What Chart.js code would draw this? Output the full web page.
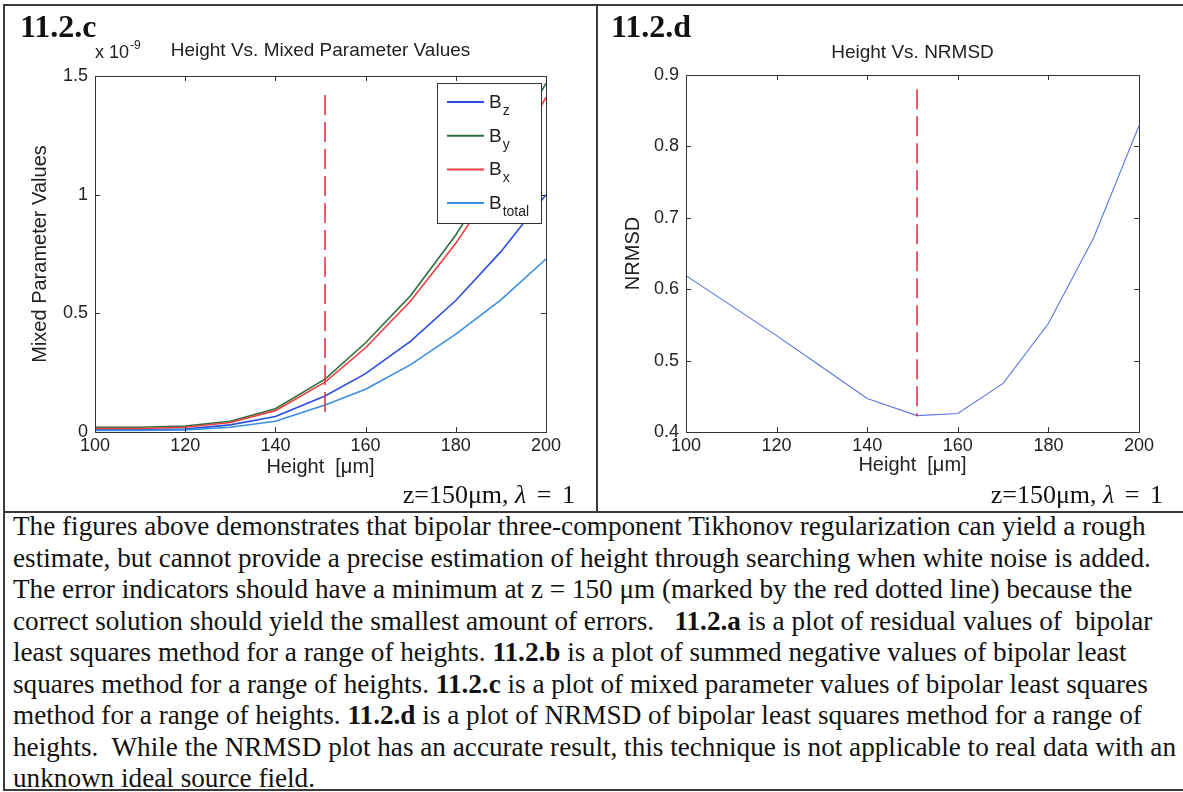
<!DOCTYPE html>
<html>
<head>
<meta charset="utf-8">
<script src="https://cdn.jsdelivr.net/npm/chart.js@4.4.1/dist/chart.umd.min.js"></script>
<style>
html,body{margin:0;padding:0;background:#fff;}
body{width:1183px;height:792px;position:relative;overflow:hidden;font-family:"Liberation Serif","Times New Roman",serif;color:#111;}
.rule{position:absolute;background:#3a3a3a;z-index:5;}
.plabel{position:absolute;font-weight:bold;font-size:32px;line-height:32px;white-space:nowrap;z-index:4;}
.note{position:absolute;font-size:26px;line-height:26px;white-space:nowrap;text-align:right;z-index:4;}
.note i{font-style:italic;}
.note .m{word-spacing:4px;}
#para{position:absolute;left:13px;top:511px;font-size:27.2px;line-height:31.5px;white-space:pre;z-index:4;}
.wrap{position:absolute;top:0;height:510px;}
</style>
</head>
<body>
<div class="wrap" style="left:0;width:595px;"><canvas id="c1" width="595" height="510"></canvas></div>
<div class="wrap" style="left:597px;width:586px;"><canvas id="c2" width="586" height="510"></canvas></div>

<div class="rule" style="left:4px;top:4px;width:1179px;height:2px;"></div>
<div class="rule" style="left:3px;top:4px;width:2px;height:787px;"></div>
<div class="rule" style="left:596px;top:4px;width:2px;height:508px;"></div>
<div class="rule" style="left:4px;top:511px;width:1179px;height:2px;"></div>
<div class="rule" style="left:4px;top:789px;width:1179px;height:2px;"></div>

<div class="plabel" style="left:20px;top:10px;">11.2.c</div>
<div class="plabel" style="left:611px;top:10px;">11.2.d</div>
<div class="note" style="right:608px;top:482px;">z=150μm, <span class="m"><i>λ</i> = 1</span></div>
<div class="note" style="right:20px;top:482px;">z=150μm, <span class="m"><i>λ</i> = 1</span></div>

<div id="para">The figures above demonstrates that bipolar three-component Tikhonov regularization can yield a rough
estimate, but cannot provide a precise estimation of height through searching when white noise is added.
The error indicators should have a minimum at z = 150 μm (marked by the red dotted line) because the
correct solution should yield the smallest amount of errors.   <b>11.2.a</b> is a plot of residual values of  bipolar
least squares method for a range of heights. <b>11.2.b</b> is a plot of summed negative values of bipolar least
squares method for a range of heights. <b>11.2.c</b> is a plot of mixed parameter values of bipolar least squares
method for a range of heights. <b>11.2.d</b> is a plot of NRMSD of bipolar least squares method for a range of
heights.  While the NRMSD plot has an accurate result, this technique is not applicable to real data with an
unknown ideal source field.</div>

<script>
// ---------- data ----------
const heights = [100, 110, 120, 130, 140, 151, 160, 170, 180, 190, 200];
// mixed parameter values, in units of 1e-9
const bz     = [0.010, 0.010, 0.012, 0.030, 0.065, 0.152, 0.246, 0.383, 0.554, 0.760, 1.000];
const by     = [0.020, 0.020, 0.025, 0.045, 0.098, 0.223, 0.376, 0.575, 0.830, 1.130, 1.470];
const bx     = [0.015, 0.015, 0.020, 0.040, 0.090, 0.210, 0.355, 0.552, 0.795, 1.080, 1.410];
const btotal = [0.007, 0.007, 0.009, 0.020, 0.045, 0.114, 0.180, 0.284, 0.412, 0.557, 0.729];
const nrmsd  = [0.619, 0.577, 0.535, 0.491, 0.447, 0.423, 0.426, 0.468, 0.552, 0.672, 0.829];
const markerHeight = 151;
const markerLeft  = [1.42, 0.06];
const markerRight = [0.88, 0.422];
const seriesNames = ['z', 'y', 'x', 'total'];
const xTicks = [100, 120, 140, 160, 180, 200];
const leftYTicks = [0, 0.5, 1, 1.5];
const rightYTicks = [0.4, 0.5, 0.6, 0.7, 0.8, 0.9];

const FONT = '"Liberation Sans", Arial, sans-serif';
const INK = '#222';
const pts = ys => heights.map((h, i) => ({x: h, y: ys[i]}));
const vline = r => r.map(v => ({x: markerHeight, y: v}));
const fmt = v => String(Number(v.toFixed(2)));

const boxTicks = {
  id: 'boxTicks',
  afterDraw(chart) {
    const {ctx, chartArea: a, scales: {x, y}} = chart;
    ctx.save();
    ctx.strokeStyle = '#333';
    ctx.lineWidth = 1;
    ctx.beginPath();
    x.ticks.forEach(t => {
      const p = Math.round(x.getPixelForValue(t.value)) + 0.5;
      ctx.moveTo(p, a.bottom); ctx.lineTo(p, a.bottom - 5);
      ctx.moveTo(p, a.top); ctx.lineTo(p, a.top + 5);
    });
    y.ticks.forEach(t => {
      const p = Math.round(y.getPixelForValue(t.value)) + 0.5;
      ctx.moveTo(a.left, p); ctx.lineTo(a.left + 5, p);
      ctx.moveTo(a.right, p); ctx.lineTo(a.right - 5, p);
    });
    ctx.stroke();
    ctx.strokeRect(Math.round(a.left) + 0.5, Math.round(a.top) + 0.5,
                   Math.round(a.right - a.left), Math.round(a.bottom - a.top));
    ctx.restore();
  }
};

const extras = {
  id: 'extras',
  afterDraw(chart, args, opts) {
    if (!opts.legend) return;
    const {ctx, chartArea: a} = chart;
    ctx.save();
    // exponent label
    ctx.fillStyle = INK;
    ctx.textBaseline = 'alphabetic';
    ctx.textAlign = 'left';
    ctx.font = '18px ' + FONT;
    ctx.fillText('x 10', a.left, a.top - 18);
    const w = ctx.measureText('x 10').width;
    ctx.font = '12px ' + FONT;
    ctx.fillText('-9', a.left + w + 1, a.top - 27);
    // legend
    const bx0 = a.right - 109, by0 = a.top + 7, bw = 104, bh = 140;
    ctx.fillStyle = '#fff';
    ctx.fillRect(bx0, by0, bw, bh);
    ctx.strokeStyle = '#333';
    ctx.lineWidth = 1;
    ctx.strokeRect(bx0 + 0.5, by0 + 0.5, bw, bh);
    chart.data.datasets.filter(d => d.legendSub).forEach((d, i) => {
      const cy = by0 + 19 + i * 33.7;
      ctx.strokeStyle = d.borderColor;
      ctx.lineWidth = 2;
      ctx.beginPath();
      ctx.moveTo(bx0 + 10, cy); ctx.lineTo(bx0 + 47, cy);
      ctx.stroke();
      ctx.fillStyle = INK;
      ctx.font = '19px ' + FONT;
      ctx.fillText('B', bx0 + 52, cy + 6);
      const bw2 = ctx.measureText('B').width;
      ctx.font = '14px ' + FONT;
      ctx.fillText(d.legendSub, bx0 + 52 + bw2 + 1, cy + 13);
    });
    ctx.restore();
  }
};

function baseOptions(cfg) {
  return {
    responsive: false,
    animation: false,
    events: [],
    layout: {padding: {left: 0, right: cfg.padRight, top: 0, bottom: 28}},
    plugins: {
      legend: {display: false},
      tooltip: {enabled: false},
      title: {
        display: true, text: cfg.title, fullSize: false, color: INK,
        font: {family: FONT, size: 19, weight: 'normal', lineHeight: 1.2},
        padding: {top: cfg.titleTop, bottom: cfg.top - cfg.titleTop - 22.8}
      },
      extras: {legend: cfg.legend}
    },
    scales: {
      x: {
        type: 'linear', min: 100, max: 200,
        afterFit: s => { s.height = 50; },
        afterBuildTicks: s => { s.ticks = xTicks.map(v => ({value: v})); },
        grid: {display: false, drawTicks: false},
        border: {display: false},
        ticks: {color: INK, padding: 3, font: {family: FONT, size: 18}, maxRotation: 0, callback: v => fmt(v)},
        title: {display: true, text: 'Height  [μm]', color: INK,
                font: {family: FONT, size: 20, lineHeight: 1.2}, padding: {top: 0, bottom: cfg.xTitlePad}}
      },
      y: {
        type: 'linear', min: cfg.yMin, max: cfg.yMax,
        afterFit: s => { s.width = cfg.yWidth; },
        afterBuildTicks: s => { s.ticks = cfg.yTicks.map(v => ({value: v})); },
        grid: {display: false, drawTicks: false},
        border: {display: false},
        ticks: {color: INK, padding: 7, font: {family: FONT, size: 18}, callback: v => fmt(v)},
        title: {display: true, text: cfg.yTitle, color: INK,
                font: {family: FONT, size: 20, lineHeight: 1.2}, padding: {top: cfg.yTitlePad, bottom: 0}}
      }
    }
  };
}

const lineDs = (label, ys, color, sub, order, width) => ({
  label, data: pts(ys), borderColor: color, backgroundColor: color, borderWidth: width,
  pointRadius: 0, fill: false, tension: 0, legendSub: sub, order
});
const dashDs = r => ({
  label: 'z = 150', data: vline(r), borderColor: '#e8334a', borderWidth: 1.6,
  borderDash: [20, 7], pointRadius: 0, fill: false, order: 0
});

new Chart(document.getElementById('c1'), {
  type: 'line',
  data: {datasets: [
    lineDs('Bz', bz, '#2a4de2', seriesNames[0], 4, 1.6),
    lineDs('By', by, '#2f6d3d', seriesNames[1], 3, 1.6),
    lineDs('Bx', bx, '#ee3d3d', seriesNames[2], 2, 1.6),
    lineDs('Btotal', btotal, '#3a8ee0', seriesNames[3], 1, 1.6),
    dashDs(markerLeft)
  ]},
  options: baseOptions({
    title: 'Height Vs. Mixed Parameter Values', titleTop: 39.6, top: 76, padRight: 49,
    yMin: 0, yMax: 1.5, yTicks: leftYTicks, yWidth: 95, yTitle: 'Mixed Parameter Values',
    yTitlePad: 28, xTitlePad: 3, legend: true
  }),
  plugins: [boxTicks, extras]
});

new Chart(document.getElementById('c2'), {
  type: 'line',
  data: {datasets: [
    {label: 'NRMSD', data: pts(nrmsd), borderColor: '#5a76e0', borderWidth: 1.1,
     pointRadius: 0, fill: false, tension: 0, order: 1},
    dashDs(markerRight)
  ]},
  options: baseOptions({
    title: 'Height Vs. NRMSD', titleTop: 41.6, top: 75, padRight: 44,
    yMin: 0.4, yMax: 0.9, yTicks: rightYTicks, yWidth: 89, yTitle: 'NRMSD',
    yTitlePad: 24, xTitlePad: 5, legend: false
  }),
  plugins: [boxTicks, extras]
});
</script>
</body>
</html>
